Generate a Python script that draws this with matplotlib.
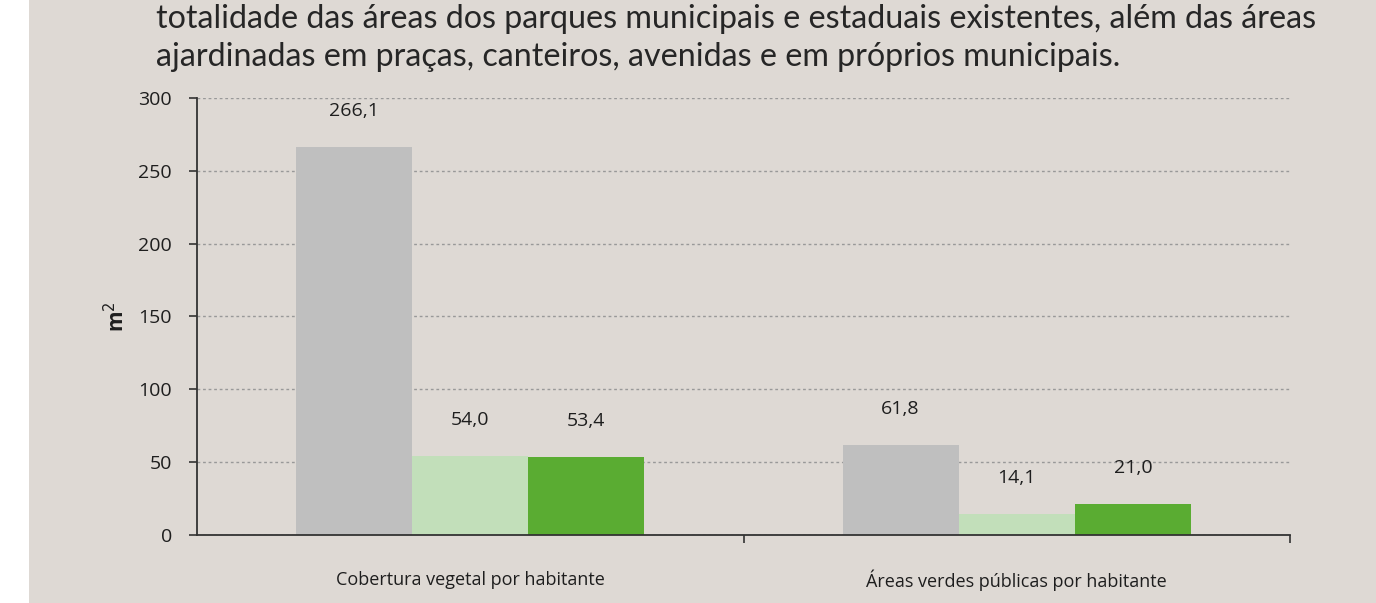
import matplotlib
matplotlib.use("Agg")
import matplotlib.pyplot as plt
from matplotlib.patches import Rectangle
import numpy as np

categories = ["Cobertura vegetal por habitante", "Áreas verdes públicas por habitante"]
series_a = [266.1, 61.8]   # grey
series_b = [54.0, 14.1]    # light green
series_c = [53.4, 21.0]    # green
labels_a = ["266,1", "61,8"]
labels_b = ["54,0", "14,1"]
labels_c = ["53,4", "21,0"]
yticks = [0, 50, 100, 150, 200, 250, 300]
title_lines = [
    "totalidade das áreas dos parques municipais e estaduais existentes, além das áreas",
    "ajardinadas em praças, canteiros, avenidas e em próprios municipais.",
]

BG = "#ded9d4"
TXT = "#1e1e1e"
W, H = 1376, 603
fig = plt.figure(figsize=(W / 100, H / 100), dpi=100, facecolor=BG)
fig.patches.append(Rectangle((0, 0), 29 / W, 1, transform=fig.transFigure,
                             facecolor="white", edgecolor="none", zorder=0))

ax = fig.add_axes([197 / W, 68 / H, 1093 / W, 437 / H])
ax.set_facecolor(BG)

x = np.arange(len(categories))
w = 0.2125
colors = ["#bfbfbf", "#c2dfba", "#5aac32"]
for off, vals, labs, col in [(-w, series_a, labels_a, colors[0]),
                             (0, series_b, labels_b, colors[1]),
                             (w, series_c, labels_c, colors[2])]:
    bars = ax.bar(x + off, vals, width=w, color=col, zorder=2, linewidth=0)
    for b, lab in zip(bars, labs):
        ax.annotate(lab, (b.get_x() + b.get_width() / 2, b.get_height()),
                    xytext=(0, 26), textcoords="offset points",
                    ha="center", va="center", fontsize=14, family="Open Sans",
                    color=TXT)

ax.set_xlim(-0.5, 1.5)
ax.set_ylim(0, 300)
ax.set_yticks(yticks)
ax.set_yticklabels([str(t) for t in yticks], family="Open Sans", fontsize=14, color=TXT)
ax.tick_params(axis="y", direction="out", length=6, width=1.2, color="#333333", pad=12)
ax.grid(axis="y", linestyle=(0, (2, 2)), color="#999999", linewidth=1, zorder=1)

ax.set_xticks(x)
ax.set_xticklabels([])
ax.tick_params(axis="x", which="major", length=0)
for xi, cat in zip(x, categories):
    ax.text(xi, -0.098, cat, transform=ax.get_xaxis_transform(), ha="center",
            va="center_baseline", family="Open Sans", fontsize=13, color=TXT)
ax.set_xticks([0.5, 1.5], minor=True)
ax.tick_params(axis="x", which="minor", direction="out", length=6, width=1.2, color="#333333")

for s in ["top", "right"]:
    ax.spines[s].set_visible(False)
for s in ["left", "bottom"]:
    ax.spines[s].set_color("#333333")
    ax.spines[s].set_linewidth(1.3)

ax.set_ylabel("m$^2$", family="Open Sans", fontsize=15, fontweight="bold", color=TXT)
ax.yaxis.set_label_coords(-0.062, 0.5)

fig.text(156 / W, 1 - 19 / H, title_lines[0], family="Lato",
         fontsize=23.2, color="#262626", va="center", ha="left")
fig.text(156 / W, 1 - 57 / H, title_lines[1], family="Lato",
         fontsize=23.2, color="#262626", va="center", ha="left")

fig.savefig("out.png", dpi=100, facecolor=BG)
